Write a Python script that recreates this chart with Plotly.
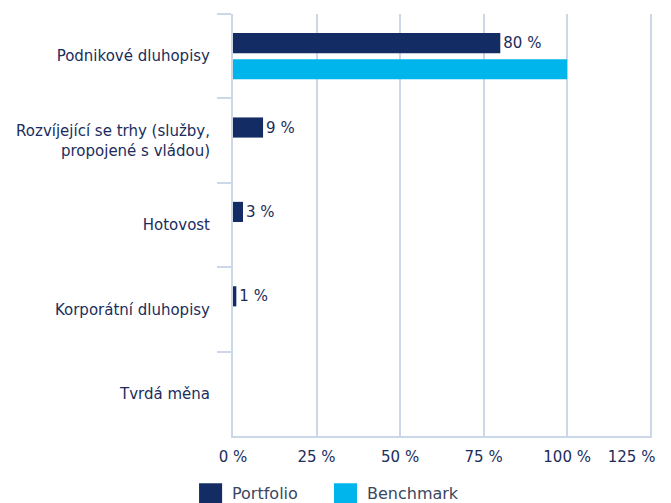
import plotly.graph_objects as go

categories = ["Podnikové dluhopisy", "Rozvíjející se trhy (služby,<br>propojené s vládou)",
              "Hotovost", "Korporátní dluhopisy", "Tvrdá měna"]
portfolio = [80, 9, 3, 1, 0]
benchmark = [100, 0, 0, 0, 0]
portfolio_labels = ["80 %", "9 %", "3 %", "1 %", ""]
tick_vals = [0, 25, 50, 75, 100, 125]
tick_text = [f"{v} %" for v in tick_vals]
# the last label sits pulled left inside the chart in the original
tick_text[-1] = tick_text[-1] + "\u00a0" * 8

NAVY = "#132c64"
CYAN = "#00b5eb"
TEXT = "#1b2d5c"
GRID = "#ccd7e8"

fig = go.Figure()

fig.add_trace(go.Bar(
    y=categories, x=portfolio, orientation="h", name="Portfolio",
    marker=dict(color=NAVY, line=dict(width=0)),
    text=portfolio_labels, textposition="outside", cliponaxis=False,
    textfont=dict(color=TEXT, size=15),
))
fig.add_trace(go.Bar(
    y=categories, x=benchmark, orientation="h", name="Benchmark",
    marker=dict(color=CYAN, line=dict(width=0)),
))

# legend drawn by hand so the swatches can be as large as in the original
legend_items = [("Portfolio", NAVY, -0.081), ("Benchmark", CYAN, 0.241)]
for name, color, x0 in legend_items:
    fig.add_shape(type="rect", xref="paper", yref="paper",
                  x0=x0, x1=x0 + 0.055, y0=-0.112, y1=-0.17,
                  fillcolor=color, line=dict(width=0))
    fig.add_annotation(text=name, xref="paper", yref="paper",
                       x=x0 + 0.074, y=-0.136, xanchor="left", yanchor="middle",
                       showarrow=False, font=dict(size=16, color="#3a4660"))

# page body has an 8px margin, so the figure is 8px smaller than the window
fig.update_layout(
    width=663, height=495,
    margin=dict(l=225, r=19, t=6, b=67),
    barmode="group", bargap=0.38, bargroupgap=0.23,
    plot_bgcolor="white", paper_bgcolor="white",
    font=dict(family="DejaVu Sans", size=15, color=TEXT),
    showlegend=False,
    xaxis=dict(range=[0, 125.4], tickvals=tick_vals, ticktext=tick_text,
               showgrid=True, gridcolor=GRID, gridwidth=2, zeroline=False,
               showline=True, linecolor=GRID, linewidth=2, mirror=False,
               ticks="", ticklabelstandoff=6, automargin=False,
               ticklabeloverflow="allow",
               tickfont=dict(size=15, color=TEXT)),
    yaxis=dict(autorange="reversed", showline=True, linecolor=GRID, linewidth=2,
               ticks="outside", tickson="boundaries", ticklen=14, tickcolor=GRID,
               tickwidth=2, showgrid=False, ticklabelstandoff=18, automargin=False,
               tickfont=dict(size=15, color=TEXT)),
)

fig.write_html("out.html")
